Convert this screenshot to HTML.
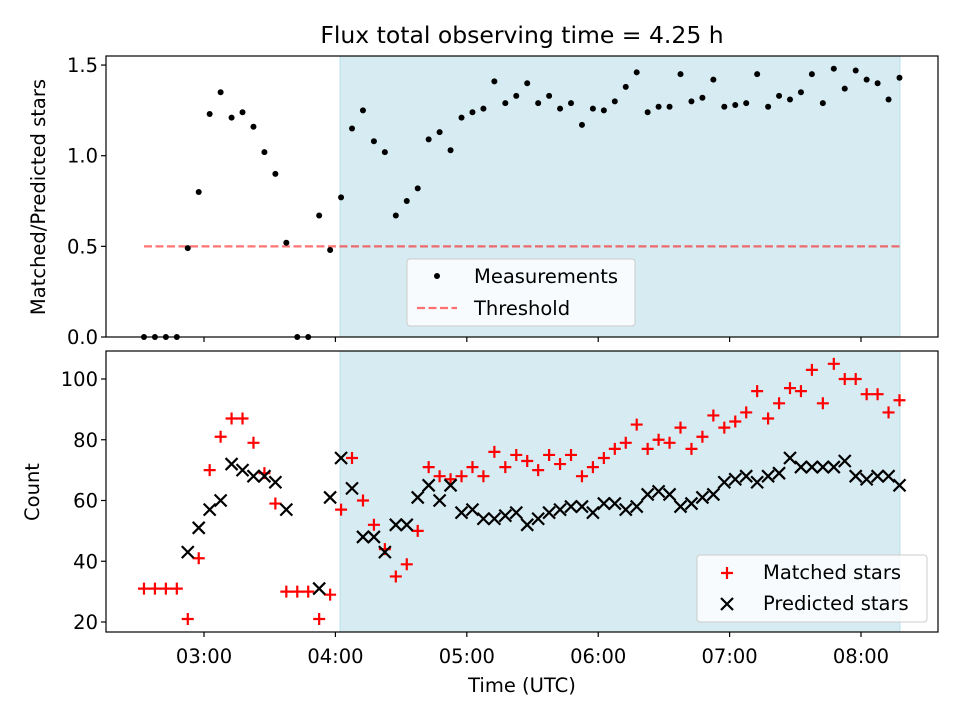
<!DOCTYPE html>
<html><head><meta charset="utf-8"><style>
body{margin:0;background:#fff}
svg{font-family:"DejaVu Sans","Liberation Sans",sans-serif}
</style></head><body>
<svg id="chart" width="960" height="720" xmlns="http://www.w3.org/2000/svg"></svg>
<script>
const ratio=[0,0,0,0,0.49,0.80,1.23,1.35,1.21,1.24,1.16,1.02,0.90,0.52,0,0,0.67,0.48,0.77,1.15,1.25,1.08,1.02,0.67,0.75,0.82,1.09,1.13,1.03,1.21,1.24,1.26,1.41,1.29,1.33,1.40,1.29,1.33,1.26,1.29,1.17,1.26,1.25,1.30,1.38,1.46,1.24,1.27,1.27,1.45,1.30,1.32,1.42,1.27,1.28,1.29,1.45,1.27,1.33,1.31,1.35,1.45,1.29,1.48,1.37,1.47,1.42,1.40,1.31,1.43];
const matched=[31,31,31,31,21,41,70,81,87,87,79,69,59,30,30,30,21,29,57,74,60,52,44,35,39,50,71,68,67,68,71,68,76,71,75,73,70,75,72,75,68,71,74,77,79,85,77,80,79,84,77,81,88,84,86,89,96,87,92,97,96,103,92,105,100,100,95,95,89,93];
const predicted=[null,null,null,null,43,51,57,60,72,70,68,68,66,57,null,null,31,61,74,64,48,48,43,52,52,61,65,60,65,56,57,54,54,55,56,52,54,56,57,58,58,56,59,59,57,58,62,63,62,58,59,61,62,66,67,68,66,68,69,74,71,71,71,71,73,68,67,68,68,65];
const tStart=2.543, tStep=5/60;
const xTicks=[3,4,5,6,7,8];
const xTickLabels=["03:00","04:00","05:00","06:00","07:00","08:00"];
const topTicks=[0,0.5,1.0,1.5];
const topTickLabels=["0.0","0.5","1.0","1.5"];
const botTicks=[20,40,60,80,100];
const threshold=0.5;
const shadeRange=[4.035,8.297];

const NS="http://www.w3.org/2000/svg";
const svg=document.getElementById('chart');
const FS='19.5';
function el(tag,attrs,parent){const e=document.createElementNS(NS,tag);for(const k in attrs)e.setAttribute(k,attrs[k]);(parent||svg).appendChild(e);return e;}
const L=106,R=938;
const xMin=2.254,xMax=8.586;
const X=t=>L+(t-xMin)/(xMax-xMin)*(R-L);
const T1=56,B1=337,B2=632,T2=351;
const Y1=v=>B1-(v-0)/(1.55-0)*(B1-T1);
const Y2=v=>622-(v-20)*(243/80);
const times=ratio.map((_,i)=>tStart+i*tStep);

let t=el('text',{x:522,y:43,'text-anchor':'middle','font-size':'23.5'});t.textContent="Flux total observing time = 4.25 h";


function panel(top,bot,name){
  const g=el('g',{});
  
  const s=el('rect',{x:X(shadeRange[0]),y:top,width:X(shadeRange[1])-X(shadeRange[0]),height:bot-top,fill:'#add8e6','fill-opacity':0.5,stroke:'#add8e6','stroke-opacity':0.7},g);
  
  return g;
}
function frame(top,bot,g){
  el('rect',{x:L,y:top,width:R-L,height:bot-top,fill:'none',stroke:'#000','stroke-width':1.2},g);
  xTicks.forEach((v,i)=>{
    el('line',{x1:X(v),x2:X(v),y1:bot,y2:bot+5,stroke:'#000','stroke-width':1.2},g);
  });
}
const g1=panel(T1,B1,'ratio-panel');
const th=el('line',{x1:X(times[0]),x2:X(times[times.length-1]),y1:Y1(threshold),y2:Y1(threshold),stroke:'#ff0000','stroke-opacity':0.55,'stroke-width':2.2,'stroke-dasharray':'8 3.5'},g1);

ratio.forEach((v,i)=>{
  const c=el('circle',{cx:X(times[i]),cy:Y1(v),r:3,fill:'#000'},g1);
  
  
});
frame(T1,B1,g1);
topTicks.forEach((v,i)=>{
  el('line',{x1:L-5,x2:L,y1:Y1(v),y2:Y1(v),stroke:'#000','stroke-width':1.2},g1);
  const tx=el('text',{x:L-8,y:Y1(v)+7,'text-anchor':'end','font-size':FS},g1);tx.textContent=topTickLabels[i];
  
});
t=el('text',{x:0,y:0,'text-anchor':'middle','font-size':FS,transform:'translate(45,197) rotate(-90)'});t.textContent="Matched/Predicted stars";

const lg1=el('g',{});
el('rect',{x:407,y:259,width:228,height:67,rx:3,fill:'#fff','fill-opacity':0.8,stroke:'#ccc'},lg1);
el('circle',{cx:437,cy:276,r:3,fill:'#000'},lg1);
t=el('text',{x:474,y:283,'font-size':FS},lg1);t.textContent="Measurements";
el('line',{x1:417,x2:457,y1:308,y2:308,stroke:'#ff0000','stroke-opacity':0.55,'stroke-width':2.2,'stroke-dasharray':'8 3.5'},lg1);
t=el('text',{x:474,y:315,'font-size':FS},lg1);t.textContent="Threshold";

const g2=panel(T2,B2,'count-panel');
function plus(x,y,g){const p=el('path',{d:`M${x-6},${y}H${x+6}M${x},${y-6}V${y+6}`,stroke:'#ff0000','stroke-width':2.2},g);return p;}
function cross(x,y,g){const p=el('path',{d:`M${x-6},${y-6}L${x+6},${y+6}M${x-6},${y+6}L${x+6},${y-6}`,stroke:'#000','stroke-width':2.2},g);return p;}
matched.forEach((v,i)=>{
  if(v==null)return;
  const p=plus(X(times[i]),Y2(v),g2);
  
  
});
predicted.forEach((v,i)=>{
  if(v==null)return;
  const p=cross(X(times[i]),Y2(v),g2);
  
  
});
frame(T2,B2,g2);
botTicks.forEach(v=>{
  el('line',{x1:L-5,x2:L,y1:Y2(v),y2:Y2(v),stroke:'#000','stroke-width':1.2},g2);
  const tx=el('text',{x:L-8,y:Y2(v)+7,'text-anchor':'end','font-size':FS},g2);tx.textContent=String(v);
  
});
xTicks.forEach((v,i)=>{
  const tx=el('text',{x:X(v),y:B2+31,'text-anchor':'middle','font-size':FS},g2);tx.textContent=xTickLabels[i];
  
});
t=el('text',{x:0,y:0,'text-anchor':'middle','font-size':FS,transform:'translate(39,492) rotate(-90)'});t.textContent="Count";

t=el('text',{x:522,y:692,'text-anchor':'middle','font-size':FS});t.textContent="Time (UTC)";

const lg2=el('g',{});
el('rect',{x:697,y:555,width:230,height:67,rx:3,fill:'#fff','fill-opacity':0.8,stroke:'#ccc'},lg2);
plus(727,573,lg2);
t=el('text',{x:763,y:579,'font-size':FS},lg2);t.textContent="Matched stars";
cross(727,604,lg2);
t=el('text',{x:763,y:610,'font-size':FS},lg2);t.textContent="Predicted stars";
</script>
</body></html>
